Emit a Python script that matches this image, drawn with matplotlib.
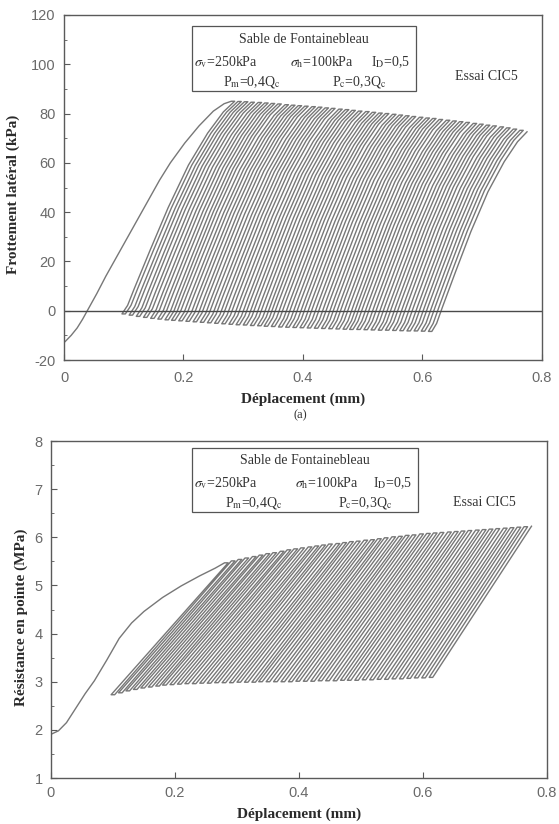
import matplotlib.pyplot as plt
from matplotlib.patches import Rectangle
import numpy as np

plt.rcParams['font.family'] = ['Liberation Serif', 'DejaVu Serif']
plt.rcParams['mathtext.fontset'] = 'stix'
plt.rcParams['axes.unicode_minus'] = False

# virgin loading curves (first load up to the first peak)
virgin_x_fric = [0.002, 0.012, 0.022, 0.031, 0.039, 0.055, 0.070, 0.100, 0.130,
                 0.160, 0.178, 0.202, 0.226, 0.250, 0.268, 0.280]
virgin_y_fric = [-12.5, -10.0, -7.0, -3.5, 0.0, 7.0, 14.0, 27.0, 40.0,
                 53.0, 60.0, 68.0, 75.0, 81.0, 84.0, 85.0]
virgin_x_tip = [0.002, 0.012, 0.025, 0.040, 0.055, 0.070, 0.090, 0.110, 0.130,
                0.150, 0.180, 0.210, 0.240, 0.265, 0.280]
virgin_y_tip = [1.92, 1.98, 2.15, 2.45, 2.75, 3.02, 3.45, 3.90, 4.22,
                4.46, 4.75, 4.99, 5.20, 5.36, 5.47]

# displacement at each cycle peak (first one = end of virgin curve) and trough (mm)
peak_x = [0.280, 0.291, 0.302, 0.313, 0.325, 0.336, 0.347, 0.358, 0.370, 0.381,
          0.392, 0.403, 0.415, 0.426, 0.437, 0.448, 0.460, 0.471, 0.482, 0.493,
          0.505, 0.516, 0.527, 0.538, 0.550, 0.561, 0.572, 0.583, 0.595, 0.606,
          0.617, 0.628, 0.640, 0.651, 0.662, 0.673, 0.685, 0.696, 0.707, 0.718,
          0.730, 0.741, 0.752, 0.763, 0.775]
trough_x = [0.097, 0.109, 0.121, 0.133, 0.145, 0.157, 0.169, 0.180, 0.192, 0.204,
            0.216, 0.228, 0.240, 0.252, 0.264, 0.276, 0.288, 0.300, 0.312, 0.324,
            0.335, 0.347, 0.359, 0.371, 0.383, 0.395, 0.407, 0.419, 0.431, 0.443,
            0.455, 0.467, 0.478, 0.490, 0.502, 0.514, 0.526, 0.538, 0.550, 0.562,
            0.574, 0.586, 0.598, 0.610]
# small creep (hook) at each load reversal (mm)
creep_x = 0.0057

# lateral friction at peaks / troughs (kPa)
fric_peak = [85.0, 84.9, 84.8, 84.6, 84.5, 84.3, 84.1, 83.9, 83.6, 83.4,
             83.2, 83.0, 82.8, 82.6, 82.3, 82.1, 81.8, 81.6, 81.3, 81.0,
             80.8, 80.5, 80.2, 80.0, 79.7, 79.4, 79.1, 78.8, 78.5, 78.2,
             78.0, 77.6, 77.3, 77.0, 76.7, 76.4, 76.0, 75.7, 75.3, 75.0,
             74.6, 74.2, 73.7, 73.2, 72.6]
fric_trough = [-1.3, -1.8, -2.3, -2.7, -3.1, -3.4, -3.7, -3.9, -4.1, -4.3,
               -4.5, -4.7, -4.9, -5.1, -5.3, -5.5, -5.7, -5.8, -6.0, -6.1,
               -6.3, -6.4, -6.6, -6.7, -6.8, -6.9, -7.0, -7.1, -7.2, -7.3,
               -7.4, -7.5, -7.6, -7.6, -7.7, -7.8, -7.9, -7.9, -8.0, -8.1,
               -8.2, -8.2, -8.3, -8.4]

# tip resistance at peaks / troughs (MPa)
tip_peak = [5.47, 5.51, 5.54, 5.57, 5.60, 5.63, 5.66, 5.68, 5.71, 5.74,
            5.76, 5.78, 5.80, 5.82, 5.84, 5.86, 5.87, 5.89, 5.91, 5.92,
            5.94, 5.95, 5.97, 5.99, 6.01, 6.02, 6.04, 6.05, 6.07, 6.08,
            6.09, 6.10, 6.11, 6.12, 6.13, 6.14, 6.15, 6.16, 6.17, 6.18,
            6.19, 6.20, 6.21, 6.22, 6.23]
tip_trough = [2.73, 2.77, 2.81, 2.84, 2.87, 2.89, 2.91, 2.93, 2.94, 2.95,
              2.96, 2.96, 2.97, 2.97, 2.98, 2.98, 2.98, 2.99, 2.99, 2.99,
              3.00, 3.00, 3.00, 3.00, 3.00, 3.01, 3.01, 3.01, 3.02, 3.02,
              3.02, 3.03, 3.03, 3.03, 3.04, 3.04, 3.05, 3.05, 3.06, 3.06,
              3.07, 3.08, 3.08, 3.09]

# shape of a friction branch between trough and peak (fractions)
fric_shape_y = [0.0, 0.04, 0.12, 0.30, 0.50, 0.70, 0.85, 0.95, 1.0]
fric_shape_x = [0.0, 0.05, 0.11, 0.25, 0.41, 0.59, 0.76, 0.90, 1.0]
tip_shape_y = [0.0, 1.0]
tip_shape_x = [0.0, 1.0]

line_col = '#777777'
axis_col = '#5a5a5a'
tick_font = ['Liberation Sans', 'DejaVu Sans']


def branch(x_lo, y_lo, x_hi, y_hi, sx, sy):
    bx = [x_lo + (x_hi - x_lo) * f for f in sx]
    by = [y_lo + (y_hi - y_lo) * f for f in sy]
    return bx, by


def cycle_path(vx, vy, tops, bottoms, sx, sy):
    xs = list(vx) + [peak_x[0] + creep_x]
    ys = list(vy) + [tops[0]]
    n = len(trough_x)
    for i in range(n):
        # unloading from peak i (after its creep) down to trough i
        bx, by = branch(trough_x[i], bottoms[i], peak_x[i] + creep_x, tops[i], sx, sy)
        xs += bx[::-1][1:]
        ys += by[::-1][1:]
        # reloading (after creep at the trough) up to the next peak
        bx, by = branch(trough_x[i] + creep_x, bottoms[i], peak_x[i + 1], tops[i + 1], sx, sy)
        xs += bx
        ys += by
        if i < n - 1:
            xs.append(peak_x[i + 1] + creep_x)
            ys.append(tops[i + 1])
    return xs, ys


def style_axes(ax, xpad, ypad):
    for s in ax.spines.values():
        s.set_color(axis_col)
        s.set_linewidth(1.0)
    ax.tick_params(direction='in', colors=axis_col, labelcolor='#6a6a6a',
                   labelsize=10.5, top=False, right=False)
    ax.tick_params(axis='x', pad=xpad, length=4)
    ax.tick_params(axis='y', pad=ypad, length=4)
    ax.tick_params(which='minor', direction='in', length=2, colors=axis_col,
                   top=False, right=False)
    for lab in ax.get_xticklabels() + ax.get_yticklabels():
        lab.set_family(tick_font)


def legend_box(ax, x0, x1, yb, yt, rows, essai_xy):
    ax.add_patch(Rectangle((x0, yb), x1 - x0, yt - yb, transform=ax.transAxes,
                           fill=False, ec='#555555', lw=0.9))
    fs = 10
    tc = '#333333'
    ax.text((x0 + x1) / 2, rows[0], 'Sable de Fontainebleau', transform=ax.transAxes,
            ha='center', va='center', fontsize=fs, color=tc)
    ax.text(x0 + 0.004, rows[1], r'$\sigma_{\mathrm{v}}$=250kPa', transform=ax.transAxes,
            ha='left', va='center', fontsize=fs, color=tc)
    ax.text(x0 + 0.272, rows[1], r'$\sigma_{\mathrm{h}}$=100kPa',
            transform=ax.transAxes, ha='center', va='center', fontsize=fs, color=tc)
    ax.text(x1 - 0.052, rows[1], r'I$_{\mathrm{D}}$=0,5', transform=ax.transAxes,
            ha='center', va='center', fontsize=fs, color=tc)
    ax.text(x0 + 0.125, rows[2], r'P$_{\mathrm{m}}$=0,4Q$_{\mathrm{c}}$', transform=ax.transAxes,
            ha='center', va='center', fontsize=fs, color=tc)
    ax.text(x0 + 0.350, rows[2], r'P$_{\mathrm{c}}$=0,3Q$_{\mathrm{c}}$', transform=ax.transAxes,
            ha='center', va='center', fontsize=fs, color=tc)
    ax.text(essai_xy[0], essai_xy[1], 'Essai CIC5', transform=ax.transAxes,
            ha='center', va='center', fontsize=10, color=tc)


fig = plt.figure(figsize=(5.59, 8.24), dpi=100)
fig.patch.set_facecolor('white')

# (a) lateral friction
ax1 = fig.add_axes([0.1145, 0.5631, 0.855, 0.4187])
fx, fy = cycle_path(virgin_x_fric, virgin_y_fric, fric_peak, fric_trough,
                    fric_shape_x, fric_shape_y)
ax1.plot(fx, fy, color=line_col, lw=1.0)
ax1.axhline(0, color='#4a4a4a', lw=1.0)
ax1.set_xlim(0, 0.8)
ax1.set_ylim(-20, 120)
ax1.set_xticks([0, 0.2, 0.4, 0.6, 0.8])
ax1.set_xticklabels(['0', '0.2', '0.4', '0.6', '0.8'])
ax1.set_yticks([-20, 0, 20, 40, 60, 80, 100, 120])
ax1.set_yticks(np.arange(-10, 120, 20), minor=True)
style_axes(ax1, 8, 6)
ax1.set_xlabel('Déplacement (mm)', fontsize=11, fontweight='bold', color='#2a2a2a')
ax1.xaxis.set_label_coords(0.5, -0.094)
ax1.set_ylabel('Frottement latéral (kPa)', fontsize=11, fontweight='bold', color='#2a2a2a')
ax1.yaxis.set_label_coords(-0.092, 0.48)
legend_box(ax1, 0.268, 0.736, 0.780, 0.968, [0.930, 0.864, 0.806], (0.883, 0.823))
fig.text(0.537, 1 - 415 / 824, '(a)', ha='center', va='center', fontsize=9, color='#333333')

# (b) tip resistance
ax2 = fig.add_axes([0.0912, 0.0558, 0.8873, 0.409])
tx, ty = cycle_path(virgin_x_tip, virgin_y_tip, tip_peak, tip_trough,
                    tip_shape_x, tip_shape_y)
ax2.plot(tx, ty, color=line_col, lw=1.0)
ax2.set_xlim(0, 0.8)
ax2.set_ylim(1, 8)
ax2.set_xticks([0, 0.2, 0.4, 0.6, 0.8])
ax2.set_xticklabels(['0', '0.2', '0.4', '0.6', '0.8'])
ax2.set_yticks([1, 2, 3, 4, 5, 6, 7, 8])
ax2.set_yticks(np.arange(1.5, 8, 1.0), minor=True)
style_axes(ax2, 6, 6)
ax2.set_xlabel('Déplacement (mm)', fontsize=11, fontweight='bold', color='#2a2a2a')
ax2.xaxis.set_label_coords(0.5, -0.088)
ax2.set_ylabel('Résistance en pointe (MPa)', fontsize=11, fontweight='bold', color='#2a2a2a')
ax2.yaxis.set_label_coords(-0.047, 0.478)
legend_box(ax2, 0.284, 0.740, 0.789, 0.979, [0.941, 0.875, 0.816], (0.873, 0.819))

fig.savefig('out.png', dpi=100, facecolor='white')
